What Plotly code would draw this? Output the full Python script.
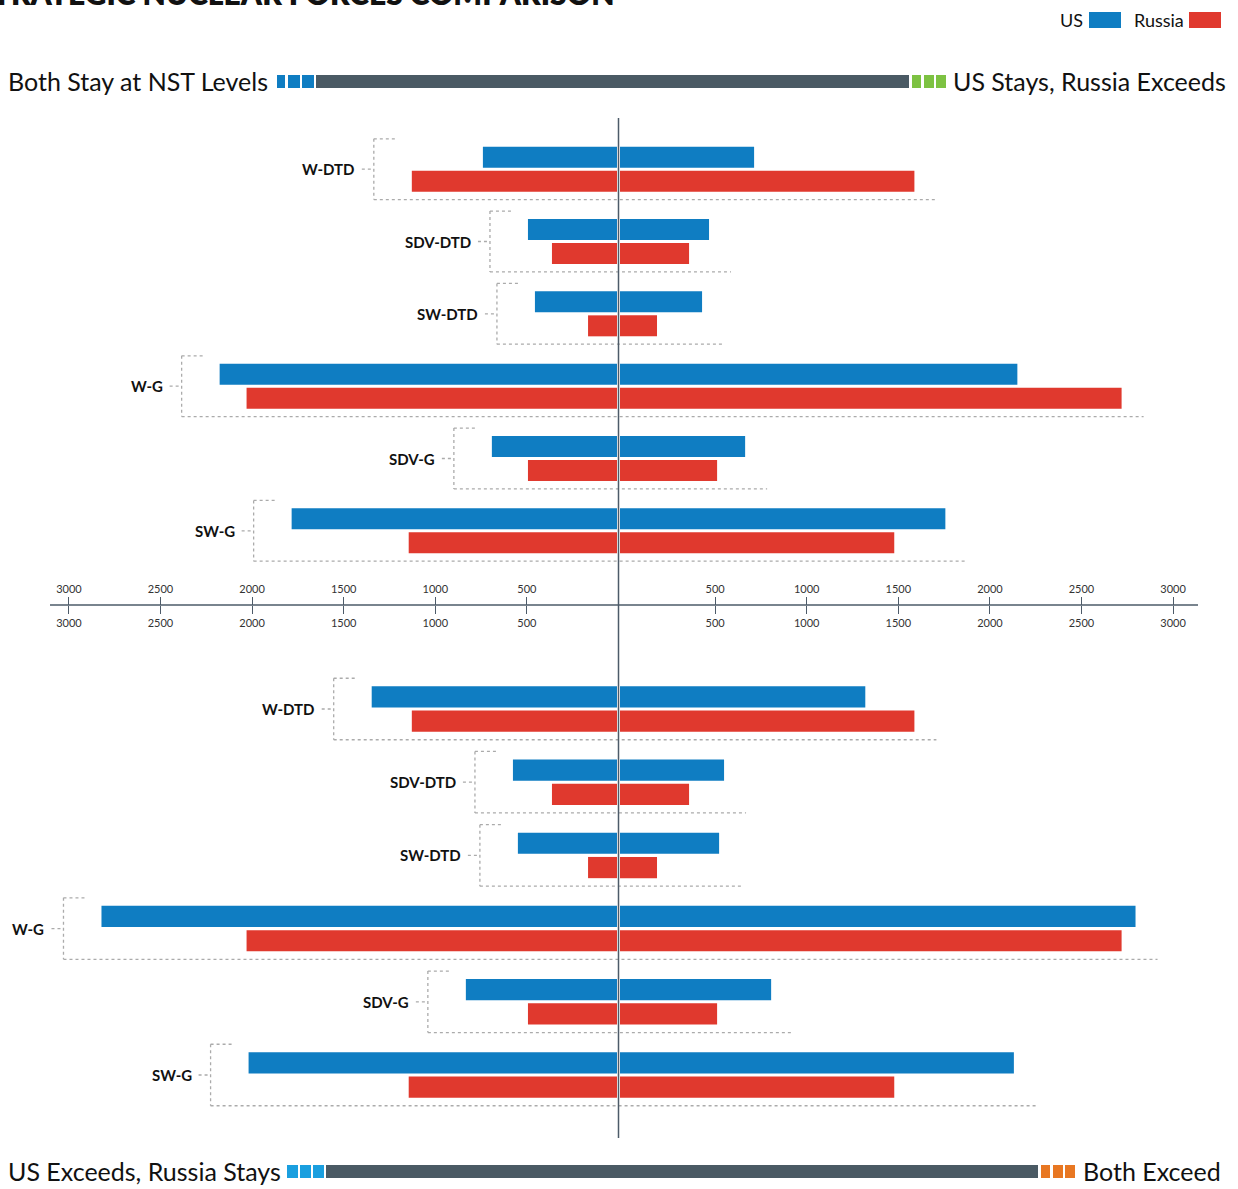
import plotly.graph_objects as go

# ---------------- data ----------------
categories = ["W-DTD", "SDV-DTD", "SW-DTD", "W-G", "SDV-G", "SW-G"]

# upper half: left = "Both Stay at NST Levels", right = "US Stays, Russia Exceeds"
top_left_us = [732, 486, 448, 2169, 683, 1776]
top_left_ru = [1120, 355, 158, 2022, 486, 1137]
top_right_us = [732, 486, 448, 2169, 683, 1776]
top_right_ru = [1607, 377, 202, 2738, 530, 1497]

# lower half: left = "US Exceeds, Russia Stays", right = "Both Exceed"
bot_left_us = [1339, 568, 541, 2814, 825, 2011]
bot_left_ru = [1120, 355, 158, 2022, 486, 1137]
bot_right_us = [1339, 568, 541, 2814, 825, 2150]
bot_right_ru = [1607, 377, 202, 2738, 530, 1497]

tick_values = [500, 1000, 1500, 2000, 2500, 3000]

scenario_top_left = "Both Stay at NST Levels"
scenario_top_right = "US Stays, Russia Exceeds"
scenario_bot_left = "US Exceeds, Russia Stays"
scenario_bot_right = "Both Exceed"
title_text = "STRATEGIC NUCLEAR FORCES COMPARISON"

# ---------------- style ----------------
W, H = 1238, 1189
US_C = "#0f7dc2"
RU_C = "#e0392e"
DARK = "#4a5a64"
LINE_C = "#4d5b69"
DOT_C = "#ababab"
FONT = "Lato"

K = 0.1832            # px per unit
ZERO_PX = 618.5
X_RANGE = [-ZERO_PX / K, (W - ZERO_PX) / K]
GAP = 1.5 / K         # half gap between left/right bars
RTICK = 5.0 / K       # right-side tick offset
LPAD = 38 / K
RPAD = 22 / K
TOPLEN = 23 / K
CONN = 12 / K
LGAP = 17 / K
HALF = 0.42
BW = 0.29
US_OFF = -0.311
RU_OFF = 0.021


def px_x(p):
    return p / W


def px_y(p):
    return 1 - p / H


fig = go.Figure()
idx = list(range(len(categories)))

sections = [
    ("x", "y", top_left_us, top_left_ru, top_right_us, top_right_ru),
    ("x2", "y2", bot_left_us, bot_left_ru, bot_right_us, bot_right_ru),
]

shapes = []
annotations = []

for xa, ya, lus, lru, rus, rru in sections:
    for vals, side, color, off in [
        (lus, -1, US_C, US_OFF), (lru, -1, RU_C, RU_OFF),
        (rus, 1, US_C, US_OFF), (rru, 1, RU_C, RU_OFF),
    ]:
        fig.add_trace(go.Bar(
            y=idx, x=[side * v for v in vals], base=side * GAP,
            orientation="h", width=BW, offset=off,
            marker=dict(color=color, line=dict(width=0)),
            xaxis=xa, yaxis=ya, showlegend=False, hoverinfo="skip",
        ))
    for i, cat in enumerate(categories):
        bx = -(GAP + max(lus[i], lru[i]) + LPAD)
        rx = GAP + max(rus[i], rru[i]) + RPAD
        dl = dict(color=DOT_C, width=1.3, dash="dot")
        shapes += [
            dict(type="line", xref=xa, yref=ya, x0=bx, x1=bx, y0=i - HALF, y1=i + HALF, line=dl, layer="below"),
            dict(type="line", xref=xa, yref=ya, x0=bx, x1=bx + TOPLEN, y0=i - HALF, y1=i - HALF, line=dl, layer="below"),
            dict(type="line", xref=xa, yref=ya, x0=bx, x1=rx, y0=i + HALF, y1=i + HALF, line=dl, layer="below"),
            dict(type="line", xref=xa, yref=ya, x0=bx - CONN, x1=bx, y0=i, y1=i, line=dl, layer="below"),
        ]
        annotations.append(dict(
            xref=xa, yref=ya, x=bx - LGAP, y=i, text=cat, showarrow=False,
            xanchor="right", yanchor="middle",
            font=dict(family=FONT, size=15, color="#111", weight=700),
        ))

# centre vertical line
shapes.append(dict(type="line", xref="paper", yref="paper", x0=px_x(ZERO_PX), x1=px_x(ZERO_PX),
                   y0=px_y(118), y1=px_y(1138), line=dict(color=LINE_C, width=1.5), layer="above"))
# horizontal axis line
AXIS_Y = 605
shapes.append(dict(type="line", xref="paper", yref="paper", x0=px_x(50), x1=px_x(1198),
                   y0=px_y(AXIS_Y), y1=px_y(AXIS_Y), line=dict(color=LINE_C, width=1.5)))

# scenario indicator bars
def rect(x0, x1, y0, y1, color):
    return dict(type="rect", xref="paper", yref="paper", x0=px_x(x0), x1=px_x(x1),
                y0=px_y(y1), y1=px_y(y0), fillcolor=color, line=dict(width=0))

for a, b in [(277, 285), (288, 300), (302, 314)]:
    shapes.append(rect(a, b, 75, 88, US_C))
shapes.append(rect(316, 909, 75, 88, DARK))
for a, b in [(912, 921), (924, 934), (936, 946)]:
    shapes.append(rect(a, b, 75, 88, "#7dc242"))

for a, b in [(287, 298), (300, 311), (313, 324)]:
    shapes.append(rect(a, b, 1165, 1178, "#1a9fdf"))
shapes.append(rect(326, 1038, 1165, 1178, DARK))
for a, b in [(1041, 1050), (1053, 1063), (1065, 1075)]:
    shapes.append(rect(a, b, 1165, 1178, "#e87722"))

# legend
shapes.append(rect(1089, 1121, 12, 28, US_C))
shapes.append(rect(1189, 1221, 12, 28, RU_C))
leg_font = dict(family=FONT, size=18, color="#111")
annotations.append(dict(xref="paper", yref="paper", x=px_x(1085), y=px_y(20), text="US",
                        showarrow=False, xanchor="right", yanchor="middle", font=leg_font))
annotations.append(dict(xref="paper", yref="paper", x=px_x(1186), y=px_y(20), text="Russia",
                        showarrow=False, xanchor="right", yanchor="middle", font=leg_font))

sc_font = dict(family=FONT, size=25, color="#111")
annotations += [
    dict(xref="paper", yref="paper", x=px_x(6), y=px_y(81), text=scenario_top_left,
         showarrow=False, xanchor="left", yanchor="middle", font=sc_font),
    dict(xref="paper", yref="paper", x=px_x(1228), y=px_y(81), text=scenario_top_right,
         showarrow=False, xanchor="right", yanchor="middle", font=sc_font),
    dict(xref="paper", yref="paper", x=px_x(6), y=px_y(1171), text=scenario_bot_left,
         showarrow=False, xanchor="left", yanchor="middle", font=sc_font),
    dict(xref="paper", yref="paper", x=px_x(1223), y=px_y(1171), text=scenario_bot_right,
         showarrow=False, xanchor="right", yanchor="middle", font=sc_font),
    dict(xref="paper", yref="paper", x=px_x(616), y=px_y(13), text=title_text,
         showarrow=False, xanchor="right", yanchor="bottom",
         font=dict(family=FONT, size=30, color="#111", weight=800)),
]

tickvals = [-(v) for v in tick_values] + [v + RTICK for v in tick_values]
ticktext = [str(v) for v in tick_values] * 2
axis_common = dict(
    range=X_RANGE, domain=[0, 1], anchor="free", position=px_y(AXIS_Y),
    tickmode="array", tickvals=tickvals, ticktext=ticktext,
    ticks="outside", ticklen=8, tickwidth=1, tickcolor=LINE_C,
    tickfont=dict(family=FONT, size=11, color="#333"),
    showgrid=False, zeroline=False, showline=False, fixedrange=True,
)

fig.update_layout(
    width=W, height=H, margin=dict(l=0, r=0, t=0, b=0),
    paper_bgcolor="white", plot_bgcolor="white",
    barmode="overlay", showlegend=False,
    xaxis=dict(side="top", **axis_common),
    xaxis2=dict(side="bottom", **axis_common),
    yaxis=dict(domain=[px_y(567), px_y(133)], range=[5.5, -0.5], visible=False, anchor="x"),
    yaxis2=dict(domain=[px_y(1111.6), px_y(672.4)], range=[5.5, -0.5], visible=False, anchor="x2"),
    shapes=shapes, annotations=annotations,
    font=dict(family=FONT),
)

fig.write_html(
    "out.html",
    config={"displayModeBar": False},
    post_script="document.body.style.margin='0';document.body.style.overflow='hidden';",
)
